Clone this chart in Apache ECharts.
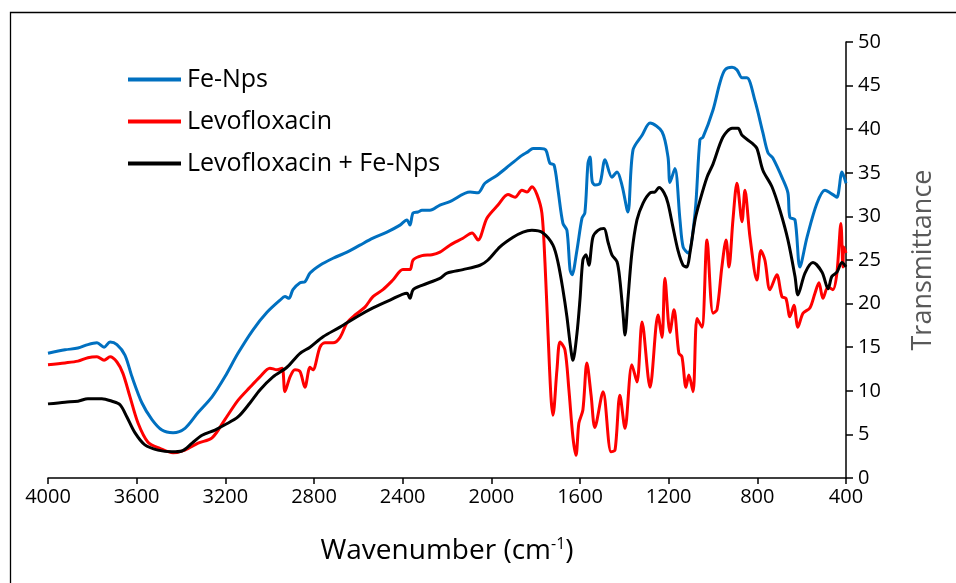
<!DOCTYPE html>
<html><head><meta charset="utf-8">
<script src="https://cdn.jsdelivr.net/npm/echarts@6/dist/echarts.min.js"></script>
<style>html,body{margin:0;padding:0;background:#fff}#c{width:956px;height:583px}</style>
</head><body><div id="c"></div>
<script>
// ---- data ----
const seriesNames = ['Fe-Nps', 'Levofloxacin', 'Levofloxacin + Fe-Nps'];
const xTicks = [4000, 3600, 3200, 2800, 2400, 2000, 1600, 1200, 800, 400];
const yTicks = [0, 5, 10, 15, 20, 25, 30, 35, 40, 45, 50];

const feWn = [4000,3923,3865,3820,3779,3747,3720,3689,3653,3621,3576,3531,3486,3436,3382,3323,3260,3202,3143,3075,3012,2953,2931,2913,2895,2863,2841,2818,2773,2714,2651,2593,2534,2471,2412,2381,2367,2353,2331,2313,2277,2232,2187,2096,2060,2029,1975,1916,1862,1835,1812,1781,1754,1736,1717,1699,1677,1659,1645,1636,1614,1591,1578,1564,1555,1545,1533,1510,1487,1456,1433,1410,1384,1361,1320,1284,1230,1203,1194,1172,1149,1135,1113,1081,1059,1045,1000,969,946,914,892,869,847,811,775,752,730,684,662,653,630,608,576,531,495,459,441,418,400];
const feT  = [14.3,14.7,14.9,15.3,15.5,15.0,15.6,15.3,14.1,11.6,8.6,6.7,5.5,5.2,5.7,7.5,9.3,11.6,14.3,17.0,19.0,20.4,20.8,20.6,21.6,22.4,22.5,23.5,24.4,25.2,25.9,26.7,27.5,28.2,29.0,29.6,29.0,30.4,30.5,30.7,30.7,31.3,31.7,32.8,32.7,33.8,34.7,35.9,37.0,37.4,37.8,37.8,37.6,36.1,35.9,33.0,29.2,28.4,23.9,23.3,26.1,29.8,30.4,36.1,36.8,34.0,33.6,33.8,36.5,34.5,35.1,33.5,30.5,37.6,39.3,40.7,39.7,36.8,33.9,35.5,29.6,26.5,25.8,30.4,38.8,39.1,42.2,45.3,46.8,47.1,46.8,45.9,45.9,43.3,39.6,37.3,36.7,34.2,32.7,29.9,29.6,24.2,27.6,31.5,33.0,32.5,32.2,35.1,33.8];

const levoWn = [4000,3923,3865,3820,3779,3747,3720,3689,3662,3630,3594,3549,3495,3436,3382,3323,3260,3202,3143,3089,3044,2999,2967,2944,2931,2908,2886,2863,2841,2818,2805,2773,2751,2714,2683,2651,2615,2570,2534,2489,2444,2399,2367,2353,2313,2268,2232,2187,2128,2087,2060,2020,1970,1925,1893,1862,1839,1817,1794,1772,1758,1745,1731,1722,1704,1690,1668,1650,1632,1618,1605,1587,1569,1550,1533,1496,1460,1442,1420,1397,1366,1343,1320,1284,1248,1230,1217,1194,1176,1154,1140,1122,1109,1090,1072,1050,1027,1000,982,960,941,928,910,892,869,856,833,802,784,766,743,712,689,671,653,635,617,594,563,540,522,504,481,459,441,423,414,410,400];
const levoT  = [13.0,13.2,13.4,13.8,13.9,13.5,13.9,13.3,12.0,9.3,6.3,4.1,3.4,2.9,3.2,4.0,4.6,6.7,8.9,10.4,11.6,12.6,12.4,12.6,9.9,11.6,12.4,12.2,10.4,12.7,12.4,15.0,15.5,15.5,16.1,17.8,18.7,19.6,20.8,21.6,22.7,23.9,23.9,25.0,25.5,25.6,25.9,26.7,27.5,28.1,27.3,29.8,31.3,32.5,32.2,33.0,32.8,33.4,32.5,30.4,24.7,17.0,9.3,7.2,12.4,15.6,14.7,10.1,4.7,2.6,6.3,7.8,13.2,9.5,5.8,9.9,3.0,3.2,9.5,5.7,13.0,11.0,17.9,10.4,18.7,16.1,22.9,16.7,19.3,14.3,13.9,10.4,11.8,9.9,18.3,17.3,27.3,18.9,19.3,24.2,27.3,24.2,29.6,33.8,29.4,33.0,27.6,22.7,26.1,25.0,21.6,23.3,20.8,20.6,18.5,19.8,17.3,18.9,19.5,21.2,22.4,20.6,21.9,21.6,23.5,29.2,24.2,26.5,25.8];

const mixWn = [4000,3923,3865,3820,3757,3711,3675,3644,3608,3563,3504,3441,3396,3350,3305,3247,3202,3143,3089,3044,2985,2922,2863,2818,2759,2683,2606,2534,2457,2381,2367,2353,2313,2232,2200,2128,2051,2015,1961,1902,1857,1817,1767,1722,1699,1677,1659,1645,1632,1614,1600,1587,1573,1560,1542,1519,1492,1474,1456,1433,1420,1406,1397,1384,1366,1343,1316,1284,1262,1244,1221,1203,1181,1158,1135,1118,1104,1081,1059,1027,1000,955,914,887,869,824,802,775,734,698,662,630,617,585,549,508,481,464,441,418,400];
const mixT  = [8.5,8.7,8.8,9.1,9.1,8.8,8.4,7.0,5.2,3.8,3.2,3.0,3.1,4.0,4.9,5.5,6.1,7.0,8.6,10.1,11.6,12.7,14.3,15.0,16.2,17.3,18.5,19.5,20.4,21.2,20.6,21.6,22.1,22.9,23.5,23.9,24.4,25.0,26.5,27.6,28.2,28.4,28.1,26.7,24.7,21.6,18.5,15.5,13.5,16.5,20.5,25.0,25.6,24.4,27.6,28.4,28.6,27.1,25.6,24.8,22.7,18.9,16.4,20.4,25.8,29.6,31.5,32.7,32.8,33.3,32.7,31.5,28.8,26.1,24.4,24.2,25.8,29.6,31.8,34.5,36.0,39.1,40.1,40.1,39.3,38.4,37.8,35.3,33.4,30.7,27.3,23.1,21.0,23.5,24.7,23.6,21.7,23.1,23.6,24.7,24.2];

const colors = ['#0070C0', '#FF0000', '#000000'];
const FONT = 'Open Sans';

function pairs(xs, ys) { return xs.map((x, i) => [x, ys[i]]); }
const dataSets = [pairs(feWn, feT), pairs(levoWn, levoT), pairs(mixWn, mixT)];

const chart = echarts.init(document.getElementById('c'), null, {renderer: 'canvas'});
chart.setOption({
  animation: false,
  backgroundColor: '#fff',
  textStyle: {fontFamily: FONT},
  grid: {left: 48, right: 110, top: 42, bottom: 105, containLabel: false},
  graphic: [{
    type: 'rect', shape: {x: 10.5, y: 12.5, width: 960, height: 600},
    style: {fill: 'none', stroke: '#000', lineWidth: 1.3}, silent: true
  }],
  legend: {
    orient: 'vertical', left: 123, top: 62, itemGap: 17,
    itemWidth: 53, itemHeight: 4, icon: 'rect',
    textStyle: {fontFamily: FONT, fontSize: 25, color: '#000', padding: [0, 0, 0, 1]},
    data: seriesNames
  },
  xAxis: {
    type: 'value', min: 400, max: 4000, interval: 400, inverse: true,
    name: '{a|Wavenumber (cm}{s|-1}{a|)}', nameLocation: 'middle', nameGap: 58,
    nameTextStyle: {rich: {
      a: {fontFamily: FONT, fontSize: 28, color: '#000'},
      s: {fontFamily: FONT, fontSize: 16, color: '#000', verticalAlign: 'top', padding: [0, 0, 14, 0]}
    }},
    axisLine: {onZero: false, lineStyle: {color: '#000', width: 1.5}},
    axisTick: {inside: false, length: 6, lineStyle: {color: '#000', width: 1.5}},
    axisLabel: {fontFamily: FONT, fontSize: 20, color: '#000', margin: 9,
      formatter: v => xTicks.includes(v) ? String(v) : ''},
    splitLine: {show: false}
  },
  yAxis: {
    type: 'value', position: 'right', min: 0, max: 50, interval: 5,
    name: 'Transmittance', nameLocation: 'middle', nameGap: 64, nameRotate: 90,
    nameTextStyle: {fontFamily: FONT, fontSize: 27, color: '#595959'},
    axisLine: {show: true, onZero: false, lineStyle: {color: '#000', width: 1.5}},
    axisTick: {show: true, inside: false, length: 7, lineStyle: {color: '#000', width: 1.5}},
    axisLabel: {fontFamily: FONT, fontSize: 20, color: '#000', margin: 12,
      formatter: v => yTicks.includes(v) ? String(v) : ''},
    splitLine: {show: false}
  },
  series: seriesNames.map((n, i) => ({
    name: n, type: 'line', data: dataSets[i], showSymbol: false, symbol: 'none',
    smooth: 0.3, lineStyle: {color: colors[i], width: 3}, itemStyle: {color: colors[i]}
  }))
});
</script></body></html>
